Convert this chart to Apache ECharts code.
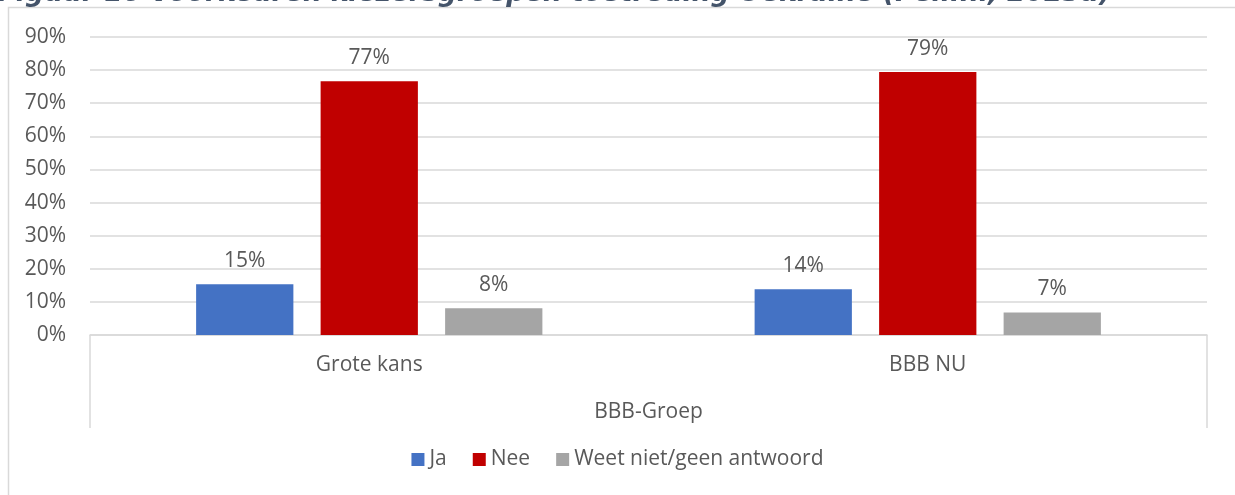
<!DOCTYPE html>
<html>
<head>
<meta charset="utf-8">
<script src="https://cdn.jsdelivr.net/npm/echarts@6/dist/echarts.min.js"></script>
<style>
html,body{margin:0;padding:0;background:#fff;}
#c{width:1235px;height:495px;}
</style>
</head>
<body>
<div id="c"></div>
<script>
const titleText = 'Figuur 16 Voorkeuren kiezersgroepen toetreding Oekraïne (Peil.nl, 2023a)';
const categories = ['Grote kans', 'BBB NU'];
const groupLabel = ['BBB-Groep'];
const seriesNames = ['Ja', 'Nee', 'Weet niet/geen antwoord'];
const jaValues = [15.3, 13.8];
const neeValues = [76.6, 79.4];
const weetValues = [8.1, 6.8];
const yTicks = [0, 90, 10];

const colors = ['#4472C4', '#C00000', '#A5A5A5'];
const font = '"Open Sans", Lato, sans-serif';
const textColor = '#595959';
const fs = 21;

const chart = echarts.init(document.getElementById('c'), null, {renderer: 'canvas'});
const mk = (name, data, color) => ({
  name, type: 'bar', data, xAxisIndex: 0, yAxisIndex: 0,
  barGap: '28%', barCategoryGap: '38%',
  itemStyle: {color},
  label: {show: true, position: 'top', distance: 13, color: textColor, fontFamily: font, fontSize: fs,
          formatter: p => Math.round(p.value) + '%'}
});
chart.setOption({
  animation: false,
  color: colors,
  grid: {left: 90, right: 28, top: 37, bottom: 160},
  graphic: [
    {type: 'rect', shape: {x: 8.5, y: 7.5, width: 1300, height: 600}, style: {fill: 'none', stroke: '#D9D9D9', lineWidth: 1.5}, z: -1},
    {type: 'text', left: -2, top: -19, style: {text: titleText, font: 'italic bold 26.5px "DejaVu Sans"', fill: '#44546A'}}
  ],
  legend: {
    data: seriesNames, bottom: 20, left: 'center', itemWidth: 13, itemHeight: 13, itemGap: 26,
    icon: 'rect',
    textStyle: {color: textColor, fontFamily: font, fontSize: fs}
  },
  xAxis: [
    {type: 'category', data: categories, axisLine: {show: true, lineStyle: {color: '#D9D9D9', width: 1.5}},
     axisTick: {show: false},
     axisLabel: {color: textColor, fontFamily: font, fontSize: fs, margin: 20}},
    {type: 'category', data: groupLabel, position: 'bottom', axisLine: {show: false},
     axisTick: {show: true, length: 93, lineStyle: {color: '#D9D9D9', width: 1.5}},
     axisLabel: {color: textColor, fontFamily: font, fontSize: fs, margin: 67}}
  ],
  yAxis: {
    type: 'value', min: yTicks[0], max: yTicks[1], interval: yTicks[2],
    axisLine: {show: false}, axisTick: {show: false},
    splitLine: {lineStyle: {color: '#D9D9D9', width: 1.5}},
    axisLabel: {formatter: '{value}%', color: textColor, fontFamily: font, fontSize: fs, margin: 24}
  },
  series: [mk(seriesNames[0], jaValues, colors[0]), mk(seriesNames[1], neeValues, colors[1]), mk(seriesNames[2], weetValues, colors[2])]
});
</script>
</body>
</html>
